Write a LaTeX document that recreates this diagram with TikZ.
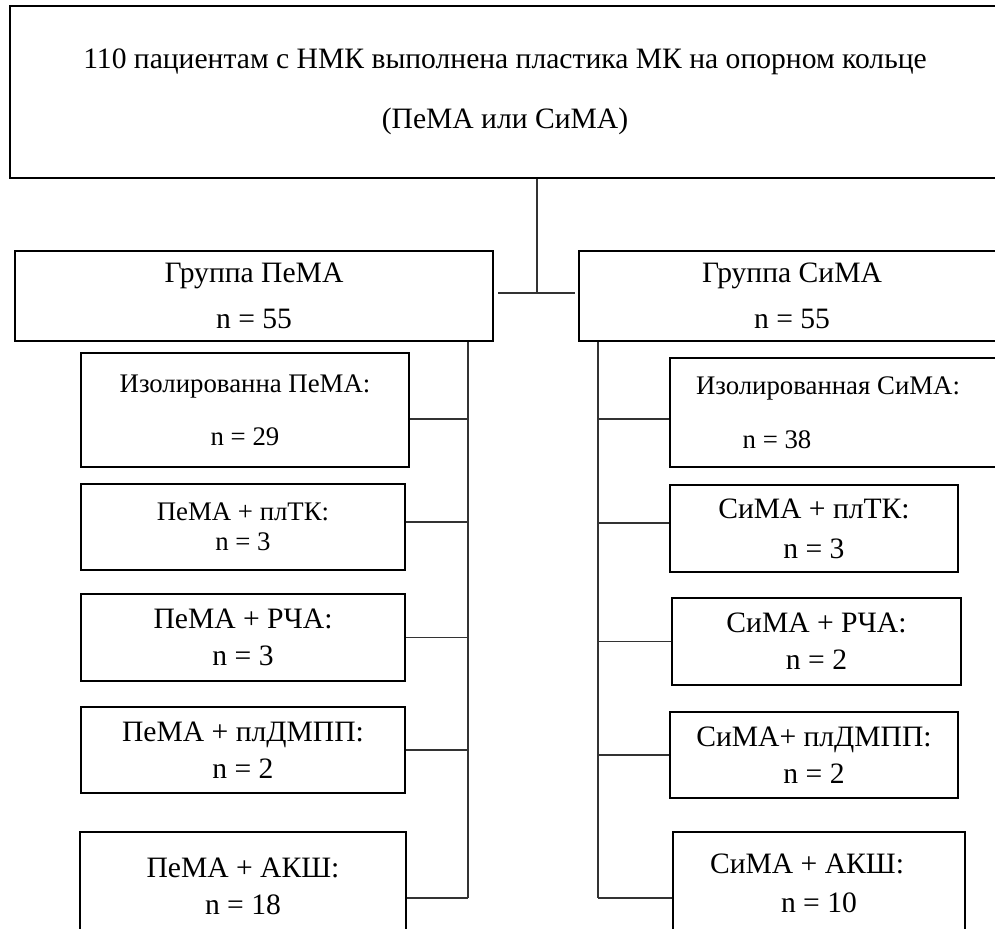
\documentclass[tikz,border=0pt]{standalone}
\usepackage{fontspec}
\setmainfont{Liberation Serif}
\usepackage{tikz}
\usetikzlibrary{positioning}
\definecolor{ink}{HTML}{000000}
\definecolor{wire}{HTML}{333333}
\tikzset{
  box/.style={draw=ink, line width=1.25pt, rectangle, inner sep=0pt, align=center,
    font=\fontsize{14.8}{17}\selectfont},
  small/.style={font=\fontsize{13.4}{15.4}\selectfont},
  link/.style={draw=wire, line width=0.55pt},
}

\begin{document}
\begin{tikzpicture}[x=0.5pt, y=-0.5pt]
\useasboundingbox (0,0) rectangle (995,929);
\clip (0,0) rectangle (995,929);

% top box
\node[box, minimum width=495pt, minimum height=86pt] (top) at (505,92)
  {110 пациентам с НМК выполнена пластика МК на опорном кольце\\[13pt](ПеМА или СиМА)};

% groups
\node[box, minimum width=239pt, minimum height=45pt] (lg) at (254,296) {Группа ПеМА\\[6pt]n = 55};
\node[box, minimum width=213pt, minimum height=45pt] (rg) at (792,296) {Группа СиМА\\[6pt]n = 55};

% left column
\node[box, small, minimum width=164pt, minimum height=57pt] (l1) at (245,410) {Изолированна ПеМА:\\[11pt]n = 29};
\node[box, small, minimum width=162pt, minimum height=43pt] (l2) at (243,527) {ПеМА + плТК:\\[-0.4pt]n = 3};
\node[box, minimum width=162pt, minimum height=43.5pt] (l3) at (243,637.5) {ПеМА + РЧА:\\[1.5pt]n = 3};
\node[box, minimum width=162pt, minimum height=43pt] (l4) at (243,750) {ПеМА + плДМПП:\\[1.5pt]n = 2};
\node[box, minimum width=163pt, minimum height=54pt] (l5) at (243,886) {ПеМА + АКШ:\\[1.5pt]n = 18};

% right column
\node[box, small, minimum width=165pt, minimum height=54.5pt] (r1) at (835,412.5)
  {Изолированная СиМА:\hspace*{7pt}\\[11.5pt]n = 38\hspace*{58pt}};
\node[box, minimum width=144pt, minimum height=43.5pt] (r2) at (814,528.5) {СиМА + плТК:\\[3pt]n = 3};
\node[box, minimum width=144.5pt, minimum height=43.5pt] (r3) at (816.5,641.5) {СиМА + РЧА:\\[1.5pt]n = 2};
\node[box, minimum width=144pt, minimum height=43pt] (r4) at (814,755) {СиМА+ плДМПП:\\[1.5pt]n = 2};
\node[box, minimum width=146pt, minimum height=51.5pt] (r5) at (819,883.5) {СиМА + АКШ:\hspace*{12pt}\\[2.5pt]n = 10};

% trunk to the groups
\coordinate (hub) at (537,293);
\coordinate (hubL) at (498,293);
\coordinate (hubR) at (575,293);
\draw[link] (top.south -| hub) -- (hub);
\draw[link] (hubL) -- (hubR);

% side trunks
\coordinate (lt) at (468,898);
\coordinate (rt) at (598,898);
\draw[link] (lg.south -| lt) -- (lt);
\draw[link] (rg.south -| rt) -- (rt);

% branches
\foreach \b/\d in {l1/-4.5,l2/2.5,l3/0,l4/0,l5/-6}{
  \draw[link] ([yshift=\d pt]\b.east) -- ([yshift=\d pt]\b.east -| lt);
}
\foreach \b/\d in {r1/-3.25,r2/2.75,r3/0,r4/0,r5/-7.25}{
  \draw[link] ([yshift=\d pt]\b.west) -- ([yshift=\d pt]\b.west -| rt);
}
\end{tikzpicture}
\end{document}
